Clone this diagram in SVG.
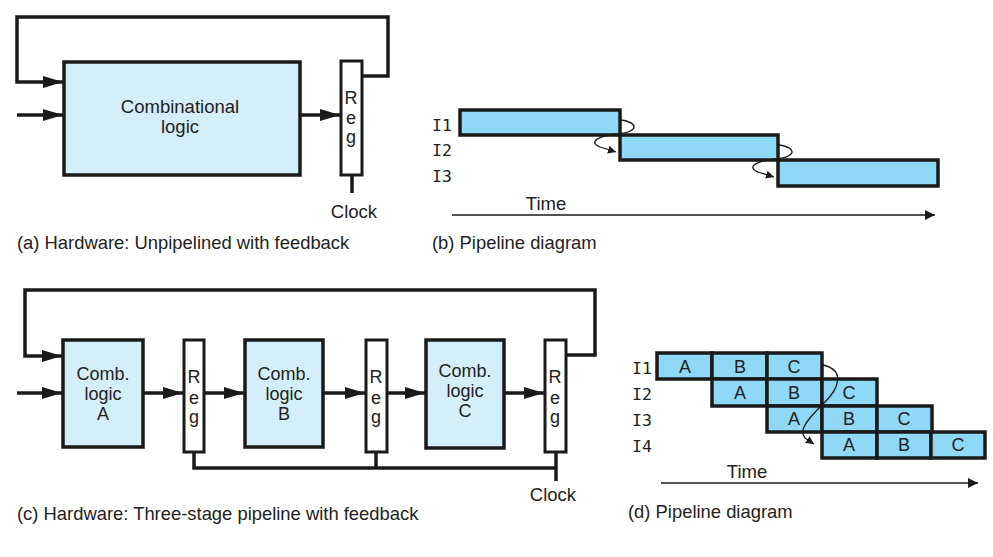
<svg xmlns="http://www.w3.org/2000/svg" width="993" height="557" viewBox="0 0 993 557">
<style>
.comb{fill:#d5effa;stroke:#1a1a1a;stroke-width:3.5}
.reg{fill:#ffffff;stroke:#1a1a1a;stroke-width:3}
.cell{fill:#8fd8f6;stroke:#1a1a1a;stroke-width:3.5}
.wire{fill:none;stroke:#1a1a1a;stroke-width:3.5}
.thin{fill:none;stroke:#1a1a1a;stroke-width:1.3}
.t{font-family:"Liberation Sans",Arial,sans-serif;fill:#222;text-anchor:middle}
.big{font-size:18.5px}
.mid{font-size:18px}
.cap{font-family:"Liberation Sans",Arial,sans-serif;fill:#222;font-size:18.4px}
.lab{font-family:"DejaVu Sans Mono","Liberation Mono",monospace;fill:#222;font-size:16.5px}
</style>
<defs>
<marker id="ah" markerUnits="userSpaceOnUse" markerWidth="22" markerHeight="14" refX="20" refY="6" orient="auto">
<path d="M0,0 L20,6 L0,12 z" fill="#1a1a1a"/>
</marker>
<marker id="as" markerUnits="userSpaceOnUse" markerWidth="12" markerHeight="10" refX="10" refY="5" orient="auto">
<path d="M0,0 L10,5 L0,10 z" fill="#1a1a1a"/>
</marker>
<marker id="ac" markerUnits="userSpaceOnUse" markerWidth="10" markerHeight="8" refX="8" refY="4" orient="auto">
<path d="M0,0 L8,4 L0,8 z" fill="#1a1a1a"/>
</marker>
</defs>

<!-- Panel (a) -->
<g id="conn-a">
<path class="wire" d="M362,76 H388 V17 H17 V82 H63" marker-end="url(#ah)"/>
<path class="wire" d="M17,115 H63" marker-end="url(#ah)"/>
<path class="wire" d="M300,115 H340" marker-end="url(#ah)"/>
<path class="wire" d="M352,176 V193"/>
</g>
<g id="comb-a">
<rect class="comb" x="64" y="62" width="236" height="113"/>
<text class="t big" x="180" y="113">Combinational</text>
<text class="t big" x="180" y="133">logic</text>
</g>
<g id="reg-a">
<rect class="reg" x="341" y="61" width="21" height="114"/>
<text class="t mid" x="351" y="104">R</text>
<text class="t mid" x="351" y="124">e</text>
<text class="t mid" x="351" y="143">g</text>
</g>
<text class="t big" x="354" y="218">Clock</text>
<text class="cap" x="17" y="249">(a) Hardware: Unpipelined with feedback</text>

<!-- Panel (b) -->
<g id="timeline-b">
<text class="lab" x="432" y="131">I1</text>
<text class="lab" x="432" y="156">I2</text>
<text class="lab" x="432" y="182">I3</text>
<rect class="cell" x="460" y="110" width="160" height="25"/>
<rect class="cell" x="620" y="135" width="158" height="25"/>
<rect class="cell" x="778" y="160" width="160" height="26"/>
</g>
<g id="conn-b">
<path class="thin" d="M621,120 C640,123 638,132 617,134 C598,136 588,142 600,147 L616,152" marker-end="url(#ac)"/>
<path class="thin" d="M779,145 C798,148 796,157 775,159 C756,161 746,167 758,172 L774,177" marker-end="url(#ac)"/>
<path class="thin" d="M452,215 H935" marker-end="url(#as)"/>
</g>
<text class="t big" x="546" y="210">Time</text>
<text class="cap" x="432" y="249">(b) Pipeline diagram</text>

<!-- Panel (c) -->
<g id="conn-c">
<path class="wire" d="M566,355 H595 V290 H25 V356 H62" marker-end="url(#ah)"/>
<path class="wire" d="M17,393 H62" marker-end="url(#ah)"/>
<path class="wire" d="M143,393 H183" marker-end="url(#ah)"/>
<path class="wire" d="M204,393 H244" marker-end="url(#ah)"/>
<path class="wire" d="M323,393 H365" marker-end="url(#ah)"/>
<path class="wire" d="M387,393 H425" marker-end="url(#ah)"/>
<path class="wire" d="M504,393 H544" marker-end="url(#ah)"/>
<path class="wire" d="M194,452 V468 H556"/>
<path class="wire" d="M376,452 V468"/>
<path class="wire" d="M556,452 V481"/>
</g>
<g id="comb-A">
<rect class="comb" x="63" y="340" width="80" height="107"/>
<text class="t mid" x="103" y="380">Comb.</text>
<text class="t mid" x="103" y="400">logic</text>
<text class="t mid" x="103" y="420">A</text>
</g>
<g id="reg-1">
<rect class="reg" x="184" y="340" width="20" height="112"/>
<text class="t mid" x="194" y="383">R</text>
<text class="t mid" x="194" y="404">e</text>
<text class="t mid" x="194" y="423">g</text>
</g>
<g id="comb-B">
<rect class="comb" x="245" y="340" width="78" height="107"/>
<text class="t mid" x="284" y="380">Comb.</text>
<text class="t mid" x="284" y="400">logic</text>
<text class="t mid" x="284" y="420">B</text>
</g>
<g id="reg-2">
<rect class="reg" x="366" y="340" width="21" height="112"/>
<text class="t mid" x="376" y="383">R</text>
<text class="t mid" x="376" y="404">e</text>
<text class="t mid" x="376" y="423">g</text>
</g>
<g id="comb-C">
<rect class="comb" x="426" y="340" width="78" height="108"/>
<text class="t mid" x="465" y="377">Comb.</text>
<text class="t mid" x="465" y="397">logic</text>
<text class="t mid" x="465" y="417">C</text>
</g>
<g id="reg-3">
<rect class="reg" x="545" y="340" width="21" height="112"/>
<text class="t mid" x="555" y="383">R</text>
<text class="t mid" x="555" y="404">e</text>
<text class="t mid" x="555" y="423">g</text>
</g>
<text class="t big" x="553" y="501">Clock</text>
<text class="cap" x="17" y="520">(c) Hardware: Three-stage pipeline with feedback</text>

<!-- Panel (d) -->
<g id="timeline-d">
<text class="lab" x="632" y="374">I1</text>
<text class="lab" x="632" y="400">I2</text>
<text class="lab" x="632" y="426">I3</text>
<text class="lab" x="632" y="452">I4</text>
<rect class="cell" x="657" y="353" width="55" height="26"/>
<rect class="cell" x="712" y="353" width="55" height="26"/>
<rect class="cell" x="767" y="353" width="55" height="26"/>
<rect class="cell" x="712" y="379" width="55" height="27"/>
<rect class="cell" x="767" y="379" width="55" height="27"/>
<rect class="cell" x="822" y="379" width="55" height="27"/>
<rect class="cell" x="767" y="406" width="55" height="26"/>
<rect class="cell" x="822" y="406" width="55" height="26"/>
<rect class="cell" x="877" y="406" width="55" height="26"/>
<rect class="cell" x="822" y="432" width="55" height="26"/>
<rect class="cell" x="877" y="432" width="54" height="26"/>
<rect class="cell" x="931" y="432" width="54" height="26"/>
<text class="t mid" x="685" y="373">A</text>
<text class="t mid" x="740" y="373">B</text>
<text class="t mid" x="794" y="373">C</text>
<text class="t mid" x="740" y="399">A</text>
<text class="t mid" x="794" y="399">B</text>
<text class="t mid" x="849" y="399">C</text>
<text class="t mid" x="794" y="425">A</text>
<text class="t mid" x="849" y="425">B</text>
<text class="t mid" x="904" y="425">C</text>
<text class="t mid" x="849" y="451">A</text>
<text class="t mid" x="904" y="451">B</text>
<text class="t mid" x="958" y="451">C</text>
</g>
<g id="conn-d">
<path class="thin" d="M823,365 C845,370 840,388 823,404 C808,419 798,430 805,438 L814,444" marker-end="url(#ac)"/>
<path class="thin" d="M661,483 H978" marker-end="url(#as)"/>
</g>
<text class="t big" x="747" y="478">Time</text>
<text class="cap" x="628" y="518">(d) Pipeline diagram</text>
</svg>
